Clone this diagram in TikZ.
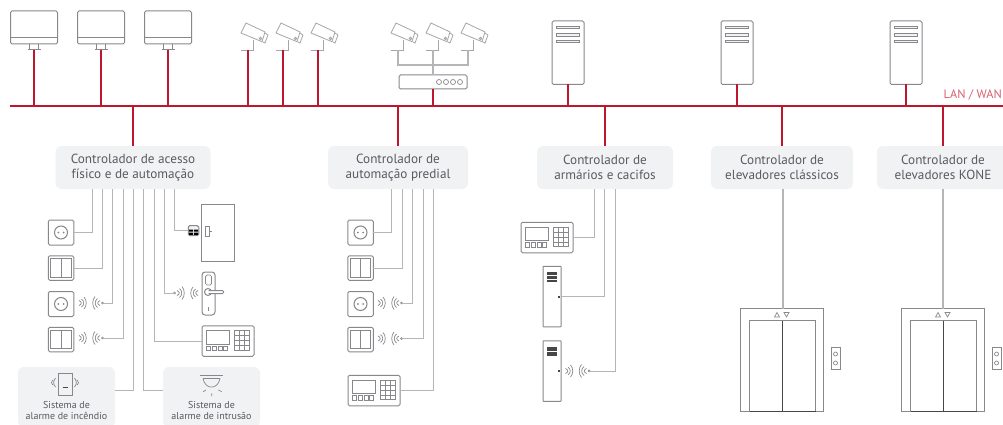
\documentclass[tikz,border=0pt]{standalone}
\usepackage{fontspec}
\setmainfont{PT Sans}
\usetikzlibrary{positioning}
\definecolor{myred}{RGB}{190, 22, 45}
\definecolor{mylanred}{RGB}{214, 96, 110}
\definecolor{myline}{RGB}{135, 135, 140}
\definecolor{mylight}{RGB}{165, 165, 170}
\definecolor{mywire}{RGB}{180, 180, 185}
\definecolor{myfill}{RGB}{241, 242, 244}
\definecolor{mytext}{RGB}{90, 90, 95}
\definecolor{mydark}{RGB}{70, 70, 72}
\tikzset{
  lan/.style = {draw = myred, line width = 2pt},
  wire/.style = {draw = mywire, line width = 1pt},
  wirethick/.style = {draw = mywire, line width = 2pt},
  thing/.style = {draw = myline, line width = 1pt},
  thin thing/.style = {draw = myline, line width = 0.7pt},
  cam thing/.style = {draw = mylight, line width = 0.8pt},
  frame/.style = {thing, inner sep = 0, outer sep = 0, rounded corners = 1.5pt},
  ctrl/.style = {fill = myfill, text = mytext, rounded corners = 6pt, minimum height = 43pt, inner sep = 0, outer sep = 0, align = center, font = \fontsize{13.2}{15}\selectfont},
  alarm/.style = {fill = myfill, rounded corners = 6pt, inner sep = 0, outer sep = 0, minimum width = 97pt, minimum height = 60pt},
  alarmtext/.style = {text = mytext, inner sep = 0, align = center, font = \fontsize{10}{11}\selectfont},
  pics/monitor/.style = {code = {
    \node [frame, minimum width = 47pt, minimum height = 33pt] (-box) at (0, 0) {};
    \draw [thing] (-23.5, 10) -- (23.5, 10);
    \draw [thing] (-4.5, 16.5) -- (-4.5, 22.5) (4.5, 16.5) -- (4.5, 22.5) (-6.5, 22.5) -- (6.5, 22.5);
    \coordinate (-base) at (0, 22.5);
  }},
  pics/camera/.style = {code = {
    \draw [cam thing] (-7, 0) -- (5, 0) -- (5, -10);
    \draw [cam thing] (-2, -27) -- (17, -18) -- (14, -8.3) -- (-7, -17) -- cycle;
    \draw [cam thing] (17, -17) -- (20, -15) -- (17, -7) -- (14.5, -8.3);
    \draw [cam thing] (12.5, -11.5) circle (1.2);
    \coordinate (-base) at (0, 0);
  }},
  pics/server/.style = {code = {
    \node [frame, minimum width = 32pt, minimum height = 63.5pt] (-box) at (0, 0) {};
    \foreach \y in {-26.3, -19.2, -12.4} {
      \draw [thin thing, fill = myfill] (-11.5, \y) rectangle (11.5, \y + 2.4);
    }
  }},
  pics/router/.style = {code = {
    \node [frame, minimum width = 68pt, minimum height = 14pt] (-box) at (0, 0) {};
    \foreach \x in {6, 13, 20, 27} {
      \draw [thin thing] (\x, 0) circle (2.5);
    }
  }},
  pics/socket/.style = {code = {
    \node [frame, minimum width = 25.5pt, minimum height = 25pt] (-box) at (0, 0) {};
    \draw [thing] (0, 0) circle (6.5);
    \fill [myline] (-2.6, 0) circle (1) (2.6, 0) circle (1);
  }},
  pics/switch/.style = {code = {
    \node [frame, minimum width = 25.5pt, minimum height = 24.5pt] (-box) at (0, 0) {};
    \draw [thing] (-10.3, -9.3) rectangle (10.3, 9.3) (0, -9.3) -- (0, 9.3);
  }},
  pics/keypad/.style = {code = {
    \node [frame, minimum width = 52pt, minimum height = 30.5pt] (-box) at (0, 0) {};
    \draw [thin thing] (-21.3, -10.3) rectangle (1, 3);
    \foreach \i in {0, 1, 2, 3} {
      \draw [thin thing] (-21.3 + \i * 5.6, 5.2) rectangle (-17.3 + \i * 5.6, 9.5);
      \foreach \j in {0, 1, 2} {
        \draw [thin thing] (6.3 + \j * 4.9, -10.3 + \i * 4.9) -- ++(4.9, 0) -- ++(0, 4.9) -- ++(-4.9, 0) -- cycle;
      }
    }
  }},
  pics/locker/.style = {code = {
    \node [frame, rounded corners = 0.5pt, minimum width = 18pt, minimum height = 60.5pt] (-box) at (0, 0) {};
    \foreach \a/\b in {#1} {
      \fill [mydark] (-5, \a) rectangle (5, \b);
    }
    \fill [mydark] (5.5, -1) rectangle (7.5, 1);
  }},
  pics/waves/.style = {code = {
    \draw [thin thing] (0, 0) circle (1);
    \foreach \x/\h in {2.5/2.5, 5/4.5, 7.5/6.5} {
      \draw [thin thing] (-\x, -\h) .. controls (-\x - 3, -\h / 2) and (-\x - 3, \h / 2) .. (-\x, \h);
    }
    \foreach \x/\h in {16.5/6, 19/4, 21.5/2.5} {
      \draw [thin thing] (-\x - 2, -\h) .. controls (-\x + 1, -\h / 2) and (-\x + 1, \h / 2) .. (-\x - 2, \h);
    }
    \coordinate (-dot) at (0, 0);
  }},
  pics/reader/.style = {code = {
    \node [frame, fill = myfill, minimum width = 10.5pt, minimum height = 10pt] (-box) at (0, 0) {};
    \fill [black] (-4.5, -1) rectangle (-0.5, 1) (0.5, -1) rectangle (4.5, 1) (-4.5, 1.8) rectangle (-0.5, 4.2) (0.5, 1.8) rectangle (4.5, 4.2);
  }},
  pics/handle/.style = {code = {
    \node [frame, rounded corners = 3pt, minimum width = 13pt, minimum height = 43pt] (-box) at (0, 0) {};
    \draw [thin thing, rounded corners = 1.5pt] (-3, -18.5) rectangle (3, -8.5);
    \draw [thing] (-0.5, -1.5) circle (3.5);
    \draw [thing, fill = white, rounded corners = 1pt] (0, -3) -- (15, -3) -- (15, 0) -- (0, 0);
    \draw [thin thing] (-0.5, 13.5) -- (-0.5, 17);
  }},
  pics/elevator/.style = {code = {
    \node [frame, rounded corners = 0pt, minimum width = 82.5pt, minimum height = 102.5pt] (-box) at (0, 0) {};
    \draw [thing] (-32.5, 51.25) -- (-32.5, -39.3) -- (33.5, -39.3) -- (33.5, 51.25);
    \draw [draw = mydark, line width = 1pt] (0, -39.3) -- (0, 51.25);
    \draw [draw = mydark, line width = 0.8pt] (-32.5, 51.25) -- (33.5, 51.25);
    \draw [thin thing] (-7.5, -43) -- (-2.5, -43) -- (-5, -47.5) -- cycle (2, -47.5) -- (7, -47.5) -- (4.5, -43) -- cycle;
    \draw [thin thing] (49, -12.5) rectangle (58, 9);
    \draw [thin thing] (53.5, -6) circle (2) (53.5, 3) circle (2);
    \coordinate (-top) at (#1, -51.25);
  }},
}
\begin{document}
\begin{tikzpicture}[x = 1pt, y = -1pt]
  \useasboundingbox (0, 0) rectangle (1003, 425);

  % bus
  \coordinate (bus-west) at (10, 106);
  \coordinate (bus-east) at (1003, 106);
  \node (lan-label) [anchor = east, inner sep = 0, text = mylanred, font = \fontsize{12.3}{14}\selectfont] at (1002, 95) {LAN / WAN};

  % top row
  \pic (monitor-1) at (34, 27.5) {monitor};
  \pic (monitor-2) at (101, 27.5) {monitor};
  \pic (monitor-3) at (168, 27.5) {monitor};
  \pic (camera-1) at (248, 50) {camera};
  \pic (camera-2) at (283, 50) {camera};
  \pic (camera-3) at (318, 50) {camera};
  \pic (camera-4) at (398, 50) {camera};
  \pic (camera-5) at (433, 50) {camera};
  \pic (camera-6) at (468, 50) {camera};
  \pic (router-1) at (433, 82) {router};
  \pic (server-1) at (568, 52.75) {server};
  \pic (server-2) at (737, 52.75) {server};
  \pic (server-3) at (906, 52.75) {server};

  % controllers
  \node (ctrl-1) [ctrl, minimum width = 155pt] at (133, 167.5) {Controlador de acesso\\físico e de automação};
  \node (ctrl-2) [ctrl, minimum width = 140pt] at (398, 167.5) {Controlador de\\automação predial};
  \node (ctrl-3) [ctrl, minimum width = 136pt] at (605, 167.5) {Controlador de\\armários e cacifos};
  \node (ctrl-4) [ctrl, minimum width = 142pt] at (782, 167.5) {Controlador de\\elevadores clássicos};
  \node (ctrl-5) [ctrl, minimum width = 132pt] at (943, 167.5) {Controlador de\\elevadores KONE};

  % ports under the controllers
  \foreach \i/\x in {1/92, 2/102, 3/112, 4/123, 5/133.5, 6/143.5, 7/154, 8/164, 9/174.5} {
    \coordinate (port-1-\i) at (\x, 189);
  }
  \foreach \i/\x in {1/391, 2/402, 3/412, 4/423, 5/433.5} {
    \coordinate (port-2-\i) at (\x, 189);
  }
  \foreach \i/\x in {1/594, 2/604.5, 3/615} {
    \coordinate (port-3-\i) at (\x, 189);
  }

  % devices - first controller
  \pic (socket-1) at (61, 232.5) {socket};
  \pic (switch-1) at (61, 268) {switch};
  \pic (socket-2) at (61, 304) {socket};
  \pic (waves-1) at (102.5, 303) {waves};
  \pic (switch-2) at (61, 339.5) {switch};
  \pic (waves-2) at (102.5, 338) {waves};
  \node (door-1) [frame, rounded corners = 0pt, minimum width = 33pt, minimum height = 57pt] at (218, 232.5) {};
  \draw [thin thing] (205, 226) rectangle (209, 236) (209, 231) -- (212, 231);
  \pic (reader-1) at (193.5, 230.7) {reader};
  \pic (handle-1) at (208.5, 293.5) {handle};
  \pic [xscale = -1] (waves-3) at (174.5, 293) {waves};
  \pic (keypad-1) at (228, 341) {keypad};

  % alarm boxes
  \node (alarm-1) [alarm] at (66.5, 397) {};
  \node (alarm-1-label) [alarmtext, above = 7pt of alarm-1.south] {Sistema de\\alarme de incêndio};
  \draw [thing] (58, 373) rectangle (72, 395);
  \draw [draw = mydark, line width = 0.8pt] (62.5, 387.5) -- (67.5, 387.5);
  \draw [thin thing] (55.5, 378) .. controls (53, 381.5) and (53, 384) .. (55.5, 387) (52.8, 380) .. controls (51, 382) and (51, 383.5) .. (52.8, 385);
  \draw [thin thing] (74.5, 378) .. controls (77, 381.5) and (77, 384) .. (74.5, 387) (77.2, 380) .. controls (79, 382) and (79, 383.5) .. (77.2, 385);
  \node (alarm-2) [alarm] at (211.5, 397) {};
  \node (alarm-2-label) [alarmtext, above = 7pt of alarm-2.south] {Sistema de\\alarme de intrusão};
  \draw [thin thing] (200, 375) -- (223, 375);
  \draw [thin thing] (203, 378.5) -- (220, 378.5) (203, 378.5) .. controls (205, 390) and (218, 390) .. (220, 378.5);
  \draw [thin thing] (203, 391.7) -- (206, 390) (211.7, 393.3) -- (211.7, 396) (218.3, 390) -- (221.7, 391.7);

  % devices - second controller
  \pic (socket-3) at (360.5, 232.5) {socket};
  \pic (switch-3) at (360.5, 268) {switch};
  \pic (socket-4) at (360.5, 304) {socket};
  \pic (waves-4) at (401.5, 303) {waves};
  \pic (switch-4) at (360.5, 339.5) {switch};
  \pic (waves-5) at (401.5, 338.5) {waves};
  \pic (keypad-2) at (374, 390.5) {keypad};

  % devices - third controller
  \pic (keypad-3) at (547, 237.5) {keypad};
  \pic (locker-1) at (552, 296.5) {locker = {-24.3/-21.7, -20.5/-17.5, -16.5/-14.8}};
  \pic (locker-2) at (552, 371) {locker = {-24/-19.7, -19/-15}};
  \pic (waves-6) at (589, 371) {waves};

  % elevators
  \pic (elevator-1) at (782, 360) {elevator = 1};
  \pic (elevator-2) at (943, 360) {elevator = 0};

  % edges - lan
  \path [lan] (bus-west) -- (bus-east);
  \path [lan] (monitor-1-base) -- (monitor-1-base |- bus-west);
  \path [lan] (monitor-2-base) -- (monitor-2-base |- bus-west);
  \path [lan] (monitor-3-base) -- (monitor-3-base |- bus-west);
  \path [lan] (camera-1-base) -- (camera-1-base |- bus-west);
  \path [lan] (camera-2-base) -- (camera-2-base |- bus-west);
  \path [lan] (camera-3-base) -- (camera-3-base |- bus-west);
  \path [lan] (router-1-box) -- (router-1-box |- bus-west);
  \path [lan] (server-1-box) -- (server-1-box |- bus-west);
  \path [lan] (server-2-box) -- (server-2-box |- bus-west);
  \path [lan] (server-3-box) -- (server-3-box |- bus-west);
  \path [lan] (ctrl-1.north) -- (ctrl-1.north |- bus-west);
  \path [lan] (ctrl-2.north) -- (ctrl-2.north |- bus-west);
  \path [lan] (ctrl-3.north) -- (ctrl-3.north |- bus-west);
  \path [lan] (ctrl-4.north) -- (ctrl-4.north |- bus-west);
  \path [lan] (ctrl-5.north) -- (ctrl-5.north |- bus-west);

  % edges - cameras to router
  \path [wirethick, line width = 1.4pt] (camera-4-base) |- (camera-5-base |- 0, 65) -| (camera-6-base);
  \path [wirethick, line width = 1.4pt] (camera-5-base) -- (router-1-box.north);

  % edges - first controller
  \path [wire] (port-1-1) |- (socket-1-box.east);
  \path [wire] (port-1-2) |- (switch-1-box.east);
  \path [wire] (port-1-3) |- (waves-1-dot);
  \path [wire] (port-1-4) |- (waves-2-dot);
  \path [wire] (port-1-5) |- (alarm-1.east |- 0, 390);
  \path [wire] (port-1-6) |- (alarm-2.west |- 0, 390);
  \path [wire] (port-1-7) |- (keypad-1-box.west);
  \path [wire] (port-1-8) |- (waves-3-dot);
  \path [wire] (port-1-9) |- (reader-1-box.west);

  % edges - second controller
  \path [wire] (port-2-1) |- (socket-3-box.east);
  \path [wire] (port-2-2) |- (switch-3-box.east);
  \path [wire] (port-2-3) |- (waves-4-dot);
  \path [wire] (port-2-4) |- (waves-5-dot);
  \path [wire] (port-2-5) |- (keypad-2-box.east);

  % edges - third controller
  \path [wire] (port-3-1) |- (keypad-3-box.east);
  \path [wire] (port-3-2) |- (locker-1-box.east);
  \path [wire] (port-3-3) |- (waves-6-dot);

  % edges - elevators
  \path [wirethick] (elevator-1-top) -- (elevator-1-top |- ctrl-4.south);
  \path [wirethick] (elevator-2-top) -- (elevator-2-top |- ctrl-5.south);

\end{tikzpicture}
\end{document}
